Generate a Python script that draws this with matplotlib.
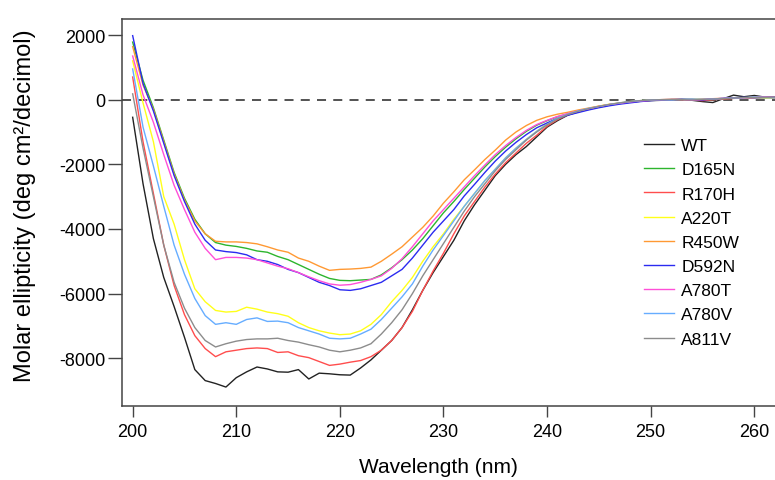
import matplotlib
matplotlib.use("Agg")
import matplotlib.pyplot as plt

plt.rcParams['font.family'] = ['Liberation Sans', 'DejaVu Sans']
plt.rcParams['axes.unicode_minus'] = False

# Wavelength (nm), 1 nm steps
wavelength = list(range(200, 263))

wt = [-545, -2600, -4300, -5500, -6400, -7350, -8350, -8690, -8780, -8890,
      -8600, -8420, -8270, -8330, -8420, -8430, -8350, -8640, -8460, -8480,
      -8510, -8520, -8300, -8050, -7750, -7450, -7050, -6500, -5900, -5350,
      -4850, -4350, -3750, -3250, -2800, -2350, -2000, -1700, -1450, -1150,
      -850, -650, -480, -380, -300, -230, -170, -120, -80, -50,
      -30, -20, -10, 0, -20, -60, -90, 30, 140, 90,
      130, 80, 70]
d165n = [1780, 600, -250, -1250, -2250, -3050, -3700, -4150, -4420, -4500,
         -4540, -4600, -4680, -4720, -4850, -4950, -5100, -5250, -5400, -5530,
         -5590, -5600, -5580, -5560, -5420, -5200, -4950, -4650, -4300, -3900,
         -3500, -3150, -2780, -2430, -2080, -1760, -1470, -1210, -980, -790,
         -650, -530, -440, -360, -290, -220, -160, -110, -70, -40,
         -20, -10, 0, 10, 0, -10, 10, 30, 50, 60,
         70, 60, 60]
r170h = [700, -1300, -2900, -4500, -5750, -6650, -7300, -7700, -7950, -7800,
         -7750, -7700, -7680, -7700, -7820, -7800, -7920, -7980, -8100, -8220,
         -8180, -8120, -8070, -7950, -7750, -7450, -7050, -6550, -5900, -5300,
         -4750, -4150, -3600, -3150, -2700, -2300, -1950, -1650, -1350, -1100,
         -820, -620, -470, -370, -290, -220, -160, -110, -70, -40,
         -20, -10, 0, 10, -10, -30, 0, 20, 40, 50,
         60, 70, 60]
a220t = [1200, -100, -1300, -3000, -3850, -4950, -5850, -6250, -6520, -6570,
         -6550, -6420, -6480, -6570, -6620, -6700, -6900, -7050, -7150, -7220,
         -7270, -7250, -7150, -6950, -6650, -6250, -5900, -5500, -5000, -4550,
         -4150, -3700, -3300, -2900, -2500, -2150, -1800, -1500, -1230, -980,
         -740, -570, -440, -340, -270, -200, -140, -100, -60, -30,
         -10, 0, 10, 0, 10, 20, 30, 40, 50, 60,
         70, 60, 70]
r450w = [1640, 450, -300, -1300, -2300, -3100, -3750, -4150, -4380, -4400,
         -4400, -4420, -4460, -4550, -4650, -4720, -4900, -5000, -5150, -5280,
         -5250, -5240, -5220, -5180, -5000, -4780, -4550, -4250, -3950, -3600,
         -3200, -2850, -2480, -2170, -1850, -1560, -1250, -1000, -800, -640,
         -530, -450, -390, -320, -260, -200, -150, -110, -70, -40,
         -20, -10, 0, 10, 20, 0, 20, 40, 60, 50,
         70, 80, 70]
d592n = [1980, 500, -350, -1350, -2350, -3150, -3850, -4350, -4650, -4700,
         -4730, -4800, -4950, -5000, -5100, -5250, -5350, -5500, -5650, -5750,
         -5880, -5900, -5850, -5750, -5650, -5450, -5250, -4900, -4500, -4100,
         -3750, -3400, -2980, -2620, -2250, -1900, -1590, -1320, -1080, -870,
         -720, -580, -480, -400, -320, -250, -190, -140, -100, -60,
         -30, -10, 0, 10, 0, -10, 20, 40, 60, 70,
         60, 70, 80]
a780t = [1350, 150, -700, -1700, -2650, -3400, -4100, -4600, -4950, -4880,
         -4880, -4900, -4950, -5050, -5150, -5230, -5350, -5480, -5600, -5700,
         -5740, -5720, -5650, -5560, -5450, -5220, -4920, -4550, -4150, -3750,
         -3400, -3050, -2700, -2350, -2020, -1700, -1420, -1170, -950, -770,
         -640, -520, -430, -350, -280, -210, -150, -110, -70, -40,
         -20, 0, 10, 0, -10, 10, 30, 40, 50, 60,
         70, 80, 70]
a780v = [950, -850, -2050, -3300, -4500, -5400, -6150, -6680, -6950, -6900,
         -6950, -6800, -6750, -6860, -6850, -6900, -7050, -7150, -7250, -7380,
         -7400, -7380, -7250, -7100, -6800, -6450, -6100, -5700, -5150, -4650,
         -4200, -3750, -3300, -2900, -2500, -2150, -1800, -1500, -1230, -980,
         -760, -580, -450, -350, -270, -210, -150, -100, -60, -30,
         -10, 0, -10, 10, 20, 10, 20, 40, 50, 60,
         80, 70, 60]
a811v = [180, -1500, -3000, -4500, -5650, -6450, -7050, -7450, -7650, -7550,
         -7470, -7420, -7400, -7400, -7380, -7450, -7500, -7580, -7650, -7750,
         -7800, -7750, -7680, -7550, -7250, -6900, -6500, -6000, -5450, -4950,
         -4450, -3950, -3450, -3000, -2600, -2200, -1850, -1550, -1250, -1000,
         -780, -600, -460, -360, -280, -210, -150, -100, -60, -30,
         -10, 0, 10, 0, -10, 10, 20, 30, 50, 70,
         60, 70, 80]

labels = ['WT', 'D165N', 'R170H', 'A220T', 'R450W', 'D592N', 'A780T', 'A780V', 'A811V']
series = [wt, d165n, r170h, a220t, r450w, d592n, a780t, a780v, a811v]
colors = ['#222222', '#2db52d', '#ff4d4d', '#ffff1a', '#ff9933',
          '#2b2bf0', '#ff4fd8', '#66adff', '#8c8c8c']

fig = plt.figure(figsize=(7.75, 4.81), dpi=100)
ax = fig.add_axes([122 / 775, 74 / 481, 653 / 775, 387 / 481])

ax.axhline(0, color='#444444', lw=1.3, ls=(0, (5, 4)), zorder=1)
for vals, lab, col in zip(series, labels, colors):
    ax.plot(wavelength, vals, color=col, lw=1.0, label=lab, zorder=2)

ax.set_xlim(198.97, 262.0)
ax.set_ylim(-9476, 2495)
ax.set_xticks([200, 210, 220, 230, 240, 250, 260])
ax.set_yticks([2000, 0, -2000, -4000, -6000, -8000])

for side in ['left', 'bottom', 'top']:
    ax.spines[side].set_color('#444444')
    ax.spines[side].set_linewidth(1.1)
ax.spines['right'].set_visible(False)
ax.tick_params(axis='x', direction='out', length=8, width=1.0, color='#444444',
               labelsize=13, pad=4)
ax.tick_params(axis='y', direction='out', length=10, width=1.0, color='#444444',
               labelsize=13, pad=2)

fig.text(438.5 / 775, 4 / 481, 'Wavelength (nm)', fontsize=15,
         ha='center', va='bottom')
fig.text(25 / 775, (481 - 206) / 481, 'Molar ellipticity (deg cm²/decimol)',
         fontsize=17, rotation=90, ha='center', va='center')

ax.legend(loc='upper left', bbox_to_anchor=(644 / 775, (481 - 139) / 481),
          bbox_transform=fig.transFigure, frameon=False, fontsize=12.5,
          handlelength=1.75, handletextpad=0.4, labelspacing=0.52,
          borderpad=0, borderaxespad=0)

plt.savefig('out.png', dpi=100)
